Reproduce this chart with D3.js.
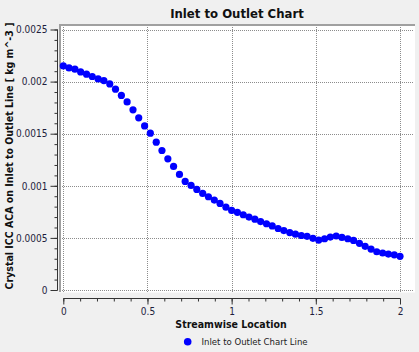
<!DOCTYPE html>
<html>
<head>
<meta charset="utf-8">
<script src="https://cdn.jsdelivr.net/npm/d3@7"></script>
<style>
  html, body { margin: 0; padding: 0; background: #f0f0f0; }
  svg { display: block; }
  text { font-family: "DejaVu Sans", Verdana, sans-serif; font-stretch: condensed; }
</style>
</head>
<body>
<div id="chart"></div>
<script>
const width = 419, height = 352;

// streamwise location of each sample
const location_x = [
  0, 0.034, 0.069, 0.103, 0.138, 0.172, 0.207, 0.241, 0.276, 0.310,
  0.345, 0.379, 0.414, 0.448, 0.483, 0.517, 0.552, 0.586, 0.621, 0.655,
  0.690, 0.724, 0.759, 0.793, 0.828, 0.862, 0.897, 0.931, 0.966, 1.000,
  1.034, 1.069, 1.103, 1.138, 1.172, 1.207, 1.241, 1.276, 1.310, 1.345,
  1.379, 1.414, 1.448, 1.483, 1.517, 1.552, 1.586, 1.621, 1.655, 1.690,
  1.724, 1.759, 1.793, 1.828, 1.862, 1.897, 1.931, 1.966, 2.000
];
// Crystal ICC ACA [kg m^-3]
const aca = [
  0.002150, 0.002131, 0.002119, 0.002093, 0.002071, 0.002049, 0.002026, 0.002010, 0.001978, 0.001927,
  0.001867, 0.001805, 0.001729, 0.001652, 0.001575, 0.001505, 0.001419, 0.001339, 0.001259, 0.001186,
  0.001109, 0.001042, 0.001004, 0.000965, 0.000927, 0.000895, 0.000863, 0.000831, 0.000795, 0.000764,
  0.000745, 0.000722, 0.000700, 0.000680, 0.000657, 0.000636, 0.000615, 0.000590, 0.000570, 0.000551,
  0.000536, 0.000523, 0.000515, 0.000496, 0.000479, 0.000492, 0.000508, 0.000518, 0.000505, 0.000492,
  0.000476, 0.000448, 0.000419, 0.000393, 0.000367, 0.000355, 0.000345, 0.000338, 0.000323
];
const xTicks = [0, 0.5, 1, 1.5, 2];
const xTickLabels = ["0", "0.5", "1", "1.5", "2"];
const yTicks = [0, 0.0005, 0.001, 0.0015, 0.002, 0.0025];
const yTickLabels = ["0", "0.0005", "0.001", "0.0015", "0.002", "0.0025"];

const chartTitle = "Inlet to Outlet Chart";
const xTitle = "Streamwise Location";
const yTitle = "Crystal ICC ACA on Inlet to Outlet Line [ kg m^-3 ]";
const seriesName = "Inlet to Outlet Chart Line";

const tickColor = "#1e1e3c";

const x = d3.scaleLinear().domain([0, 2]).range([63.3, 400]);
const y = d3.scaleLinear().domain([0, 0.0025]).range([290, 29.5]);

const svg = d3.select('#chart')
    .append('svg')
    .attr('width', width)
    .attr('height', height);

svg.append('rect')
    .attr('width', width).attr('height', height)
    .attr('fill', '#f0f0f0');

// plot area, grey border on top and left
svg.append('rect')
    .attr('x', 59).attr('y', 24.5)
    .attr('width', 356).attr('height', 268)
    .attr('fill', '#ffffff');
svg.append('line')
    .attr('x1', 59).attr('x2', 415).attr('y1', 25).attr('y2', 25)
    .attr('stroke', '#a0a0a0').attr('stroke-width', 2);
svg.append('line')
    .attr('x1', 60).attr('x2', 60).attr('y1', 24).attr('y2', 292)
    .attr('stroke', '#a0a0a0').attr('stroke-width', 2);

// dotted grid
svg.append('g')
    .selectAll('line')
    .data(xTicks)
    .enter()
    .append('line')
    .attr('x1', d => Math.round(x(d)) + 0.5)
    .attr('x2', d => Math.round(x(d)) + 0.5)
    .attr('y1', 27).attr('y2', 292)
    .attr('stroke', '#8c8c8c')
    .attr('stroke-dasharray', '1,1');
svg.append('g')
    .selectAll('line')
    .data(yTicks)
    .enter()
    .append('line')
    .attr('y1', d => Math.round(y(d)) + 0.5)
    .attr('y2', d => Math.round(y(d)) + 0.5)
    .attr('x1', 62).attr('x2', 414)
    .attr('stroke', '#8c8c8c')
    .attr('stroke-dasharray', '1,1');

// y axis, outside the frame
const yMinor = d3.range(0, 26).map(i => i * 0.0001);
svg.append('g')
    .attr('transform', 'translate(57.5, 0)')
    .call(d3.axisLeft(y).tickValues(yMinor).tickSize(3).tickFormat(''))
    .call(g => g.select('.domain').remove());
const yAxis = svg.append('g')
    .attr('transform', 'translate(57.5, 0)')
    .call(d3.axisLeft(y).tickValues(yTicks).tickSize(7).tickPadding(3)
        .tickFormat((d, i) => yTickLabels[i]));
yAxis.select('.domain').attr('d', `M0,${y(0.0025)}V${y(0)}`).attr('stroke', '#333');
yAxis.selectAll('text')
    .attr('fill', tickColor)
    .style('font-size', '10px');

// x axis, below the frame
const xMinor = d3.range(0, 21).map(i => i * 0.1);
svg.append('g')
    .attr('transform', 'translate(0, 298.5)')
    .call(d3.axisBottom(x).tickValues(xMinor).tickSize(3).tickFormat(''))
    .call(g => g.select('.domain').remove());
const xAxis = svg.append('g')
    .attr('transform', 'translate(0, 298.5)')
    .call(d3.axisBottom(x).tickValues(xTicks).tickSize(6).tickPadding(3)
        .tickFormat((d, i) => xTickLabels[i]));
xAxis.select('.domain').attr('d', `M${x(0)},0H${x(2)}`).attr('stroke', '#333');
xAxis.selectAll('text')
    .attr('fill', tickColor)
    .style('font-size', '10px');
svg.selectAll('.tick line').attr('stroke', '#333');

// points
svg.append('g')
    .selectAll('circle')
    .data(location_x.map((d, i) => ({ x: d, v: aca[i] })))
    .enter()
    .append('circle')
    .attr('cx', d => x(d.x))
    .attr('cy', d => y(d.v))
    .attr('r', 3.6)
    .attr('fill', '#0000ff');

// titles
svg.append('text')
    .attr('x', 237).attr('y', 18)
    .attr('text-anchor', 'middle')
    .style('font-size', '13px').style('font-weight', 'bold')
    .attr('fill', '#111')
    .text(chartTitle);

svg.append('text')
    .attr('x', 231).attr('y', 328)
    .attr('text-anchor', 'middle')
    .style('font-size', '10.5px').style('font-weight', 'bold')
    .attr('fill', '#111')
    .text(xTitle);

svg.append('text')
    .attr('transform', 'translate(12.5, 156) rotate(-90)')
    .attr('text-anchor', 'middle')
    .style('font-size', '10.5px').style('font-weight', 'bold')
    .attr('fill', '#111')
    .text(yTitle);

// legend
svg.append('circle')
    .attr('cx', 187.7).attr('cy', 341.7)
    .attr('r', 3.8)
    .attr('fill', '#0000ff');
svg.append('text')
    .attr('x', 201.5).attr('y', 345)
    .style('font-size', '9.5px')
    .attr('fill', '#222')
    .text(seriesName);
</script>
</body>
</html>
